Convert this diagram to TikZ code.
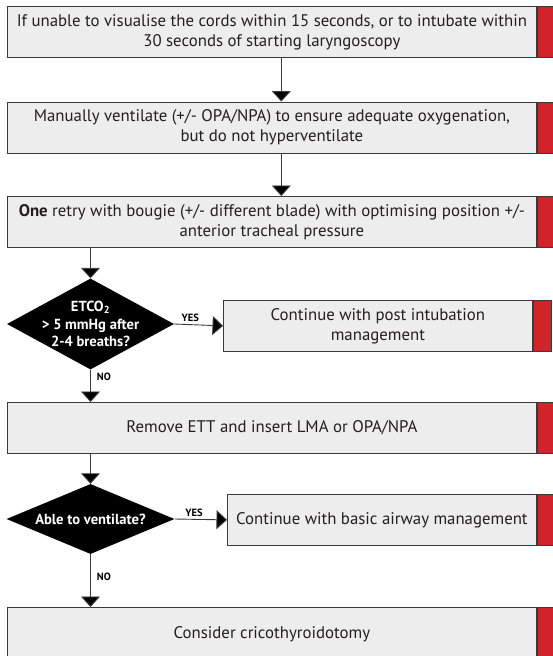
\documentclass[tikz,border=0pt]{standalone}
\usepackage{fontspec}
\setmainfont{PT Sans}
\usetikzlibrary{arrows.meta,shapes.geometric,calc}
\definecolor{barred}{HTML}{D2232A}
\definecolor{boxgray}{HTML}{EDEDED}
\definecolor{linegray}{HTML}{3A3A3A}
\definecolor{textgray}{HTML}{231F20}
\begin{document}
\begin{tikzpicture}[x=1pt,y=-1pt,
  box/.style={draw=linegray, line width=0.8pt, fill=boxgray, inner sep=0pt, align=center,
    text=textgray, font=\fontsize{16.8}{20}\selectfont, anchor=north west},
  redbar/.style={draw=linegray, line width=0.8pt, fill=barred, inner sep=0pt, anchor=north west, minimum width=18pt},
  dia/.style={shape=diamond, fill=black, inner sep=0pt},
  dtext/.style={text=white, font=\bfseries\fontsize{14.6}{17.5}\selectfont, align=center},
  lab/.style={text=black, font=\bfseries\fontsize{10.5}{12}\selectfont, inner sep=1pt},
  arr/.style={draw=linegray, line width=0.9pt, -{Triangle[width=19pt,length=10.5pt,fill=black]}}]
\useasboundingbox (0,0) rectangle (553,656);
\clip (0,0) rectangle (553,656);
% boxes
\node[box, minimum width=529pt, minimum height=51pt] (b1) at (7,6)
  {If unable to visualise the cords within 15 seconds, or to intubate within\\30 seconds of starting laryngoscopy};
\node[redbar, minimum height=51pt] (r1) at (b1.north east) {};
\node[box, minimum width=529pt, minimum height=51pt] (b2) at (7,101.5)
  {Manually ventilate (+/- OPA/NPA) to ensure adequate oxygenation,\\but do not hyperventilate};
\node[redbar, minimum height=51pt] (r2) at (b2.north east) {};
\node[box, minimum width=529pt, minimum height=51pt] (b3) at (7,196)
  {\textbf{One} retry with bougie (+/- different blade) with optimising position +/-\\anterior tracheal pressure};
\node[redbar, minimum height=51pt] (r3) at (b3.north east) {};
\node[box, minimum width=309pt, minimum height=51pt] (b4) at (223,300)
  {Continue with post intubation\\management};
\node[redbar, minimum height=51pt] (r4) at (b4.north east) {};
\node[box, minimum width=529pt, minimum height=51pt] (b5) at (7,402)
  {Remove ETT and insert LMA or OPA/NPA};
\node[redbar, minimum height=51pt] (r5) at (b5.north east) {};
\node[box, minimum width=309pt, minimum height=51pt] (b6) at (227,494)
  {Continue with basic airway management};
\node[redbar, minimum height=51pt] (r6) at (b6.north east) {};
\node[box, minimum width=529pt, minimum height=54pt] (b7) at (7,607)
  {Consider cricothyroidotomy};
\node[redbar, minimum height=54pt] (r7) at (b7.north east) {};
% diamonds
\node[dia, minimum width=167pt, minimum height=91pt] (d1) at (90.5,324) {};
\node[dtext] (d1t) at (90.5,324) {ETCO\textsubscript{2}\\> 5 mmHg after\\2-4 breaths?};
\node[dia, minimum width=168pt, minimum height=70pt] (d2) at (90.5,519) {};
\node[dtext] (d2t) at (90.5,519) {Able to ventilate?};
% connectors
\draw[arr] ($(b1.south west)!0.5!(r1.south east)$) -- ($(b2.north west)!0.5!(r2.north east)$);
\draw[arr] ($(b2.south west)!0.5!(r2.south east)$) -- ($(b3.north west)!0.5!(r3.north east)$);
\draw[arr] ([xshift=83.5pt]b3.south west) -- (d1.north);
\draw[arr] (d1.east) -- node[lab, pos=0.33, above=1.5pt] (y1) {YES} (b4.west);
\draw[arr] (d1.south) -- node[lab, pos=0.22, right=5pt] (n1) {NO} ([xshift=83.5pt]b5.north west);
\draw[arr] ([xshift=83.5pt]b5.south west) -- (d2.north);
\draw[arr] (d2.east) -- node[lab, pos=0.37, above=1.5pt] (y2) {YES} (b6.west);
\draw[arr] (d2.south) -- node[lab, pos=0.43, right=5pt] (n2) {NO} ([xshift=83.5pt]b7.north west);
\end{tikzpicture}
\end{document}
